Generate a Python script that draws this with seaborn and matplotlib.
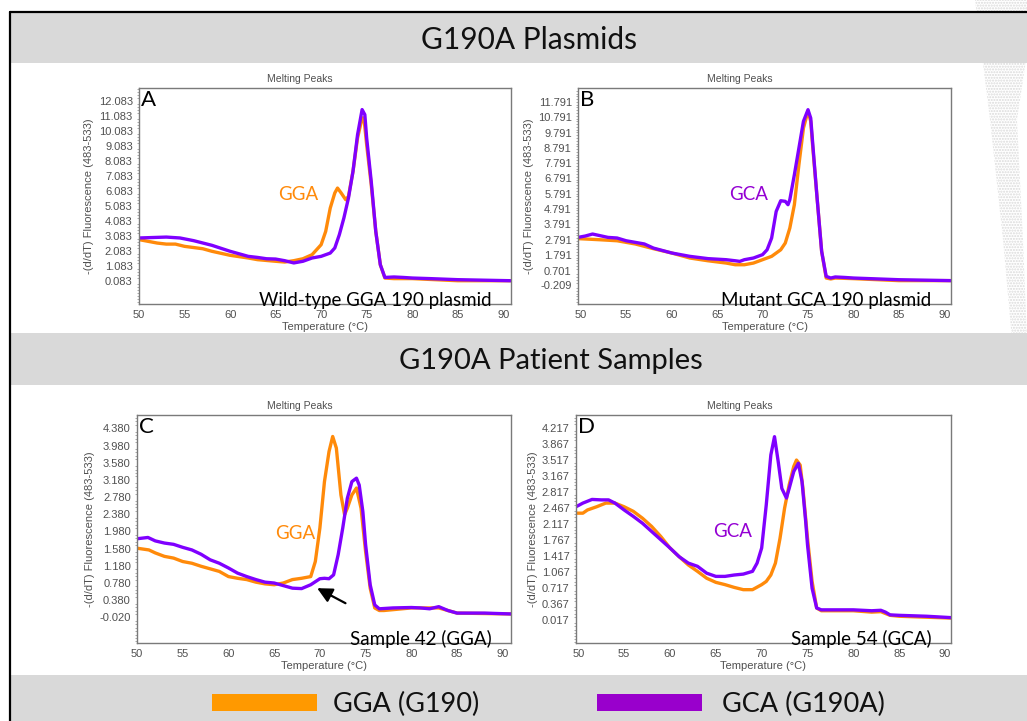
import matplotlib
matplotlib.use("Agg")
import matplotlib.pyplot as plt
import seaborn as sns
from matplotlib.patches import Rectangle, Polygon
from matplotlib.ticker import AutoMinorLocator, FormatStrFormatter

# ---------------------------------------------------------------- data
# Melting-peak curves, -(d/dT) fluorescence (483-533) versus temperature (°C)

# A: wild-type GGA 190 plasmid
a_gga_temp = [50, 52, 53, 54, 55, 57, 58, 60, 62, 63, 65, 66, 67, 68, 69, 70, 70.5, 71, 71.5,
              71.8, 72.2, 72.7, 73, 73.5, 74, 74.5, 74.7, 75, 75.5, 76, 76.5, 77, 78, 80, 85, 90.8]
a_gga_val = [2.83, 2.60, 2.53, 2.53, 2.38, 2.22, 2.05, 1.78, 1.60, 1.49, 1.38, 1.33, 1.42, 1.55,
             1.82, 2.49, 3.38, 4.94, 5.95, 6.28, 5.95, 5.50, 5.72, 7.40, 9.63, 10.97, 10.97, 9.18,
             6.51, 3.38, 1.15, 0.26, 0.22, 0.22, 0.08, 0.08]
a_gca_temp = [50, 52, 53, 54.5, 56, 58, 60, 62, 63, 64, 65, 66, 67, 68, 69, 70, 71, 71.5, 72, 72.5,
              73, 73.5, 74, 74.5, 74.8, 75, 75.5, 76, 76.5, 77, 78, 79, 80, 82, 85, 90.8]
a_gca_val = [2.94, 2.98, 3.00, 2.94, 2.76, 2.45, 2.05, 1.71, 1.64, 1.55, 1.53, 1.42, 1.27, 1.38,
             1.60, 1.71, 1.93, 2.27, 3.16, 4.28, 5.61, 7.40, 9.85, 11.53, 11.19, 9.63, 6.73, 3.38,
             1.15, 0.30, 0.33, 0.30, 0.26, 0.22, 0.15, 0.08]

# B: mutant GCA 190 plasmid
b_gga_temp = [49.7, 52, 54, 56, 58, 60, 62, 64, 66, 67, 68, 69, 70, 71, 72, 72.5, 73, 73.5, 74,
              74.5, 75, 75.3, 75.5, 76, 76.5, 77, 77.5, 78, 80, 85, 90.7]
b_gga_val = [2.85, 2.78, 2.71, 2.50, 2.19, 1.91, 1.58, 1.40, 1.25, 1.14, 1.14, 1.25, 1.47, 1.69,
             2.12, 2.56, 3.54, 5.07, 7.69, 10.09, 11.18, 10.53, 9.00, 5.51, 2.02, 0.27, 0.21, 0.27,
             0.23, 0.10, 0.10]
b_gca_temp = [49.7, 50.5, 51.3, 52, 53, 54, 55, 57, 58, 60, 62, 64, 66, 67, 67.5, 68, 69, 70, 70.5,
              71, 71.5, 72, 72.5, 72.8, 73, 73.5, 74, 74.5, 75, 75.3, 75.5, 76, 76.5, 77, 77.5, 78,
              79, 80, 85, 90.7]
b_gca_val = [2.93, 3.02, 3.15, 3.06, 2.93, 2.89, 2.71, 2.50, 2.23, 1.91, 1.69, 1.54, 1.47, 1.40,
             1.36, 1.47, 1.58, 1.80, 2.12, 2.89, 4.63, 5.33, 5.29, 5.07, 5.40, 7.03, 8.78, 10.53,
             11.29, 10.74, 9.22, 5.51, 2.02, 0.38, 0.27, 0.34, 0.31, 0.27, 0.16, 0.10]

# C: patient sample 42 (GGA)
c_gga_temp = [50, 51.3, 52, 53, 54, 55, 56, 57, 58, 59, 60, 61, 62, 63, 64, 65, 66, 67, 68, 69,
              69.5, 70, 70.5, 71, 71.4, 71.8, 72.3, 72.7, 73, 73.5, 74, 74.5, 75, 75.5, 76, 76.5,
              77, 80, 83, 85, 90.9]
c_gga_val = [1.59, 1.55, 1.48, 1.40, 1.36, 1.28, 1.24, 1.17, 1.11, 1.05, 0.93, 0.89, 0.86, 0.80,
             0.76, 0.74, 0.78, 0.86, 0.89, 0.93, 1.28, 2.06, 3.14, 3.84, 4.19, 3.92, 2.83, 2.37,
             2.52, 2.83, 2.99, 2.52, 1.51, 0.66, 0.20, 0.14, 0.14, 0.20, 0.20, 0.08, 0.06]
c_gca_temp = [50, 51.2, 52, 53, 54, 55, 56, 57, 58, 59, 60, 61, 62, 63, 64, 65, 66, 67, 68, 69,
              70, 70.5, 71, 71.5, 72, 72.5, 73, 73.5, 74, 74.3, 74.7, 75, 75.5, 76, 76.5, 78, 80,
              81, 82, 83, 84, 85, 88, 90.9]
c_gca_val = [1.81, 1.84, 1.76, 1.71, 1.68, 1.61, 1.55, 1.45, 1.32, 1.24, 1.13, 1.01, 0.93, 0.86,
             0.80, 0.78, 0.72, 0.66, 0.65, 0.74, 0.88, 0.89, 0.88, 0.97, 1.44, 2.06, 2.75, 3.14,
             3.22, 3.06, 2.44, 1.67, 0.74, 0.27, 0.18, 0.20, 0.21, 0.20, 0.18, 0.23, 0.14, 0.08,
             0.08, 0.06]

# D: patient sample 54 (GCA)
d_gga_temp = [49.75, 50.5, 51, 52, 53, 54, 55, 56, 57, 58, 59, 60, 61, 62, 63, 64, 65, 66, 67, 68,
              69, 70, 70.5, 71, 71.5, 72, 72.5, 73, 73.5, 73.8, 74.2, 74.5, 75, 75.5, 76, 76.5, 80,
              82, 83, 84, 85, 90.65]
d_gga_val = [2.35, 2.35, 2.42, 2.49, 2.57, 2.57, 2.49, 2.39, 2.24, 2.06, 1.84, 1.59, 1.40, 1.22,
             1.08, 0.93, 0.84, 0.79, 0.73, 0.68, 0.68, 0.79, 0.86, 1.00, 1.26, 1.80, 2.46, 2.97,
             3.37, 3.51, 3.40, 2.89, 1.80, 0.86, 0.28, 0.22, 0.22, 0.19, 0.20, 0.12, 0.10, 0.06]
d_gca_temp = [49.75, 50.5, 51.5, 52.5, 53.3, 54, 55, 56, 57, 58, 59, 60, 61, 62, 63, 64, 65, 66,
              67, 68, 69, 69.5, 70, 70.5, 71, 71.4, 71.8, 72.2, 72.7, 73, 73.5, 74, 74.4, 74.8, 75,
              75.5, 76, 76.5, 80, 82, 83, 83.5, 84, 85, 88, 90.65]
d_gca_val = [2.49, 2.57, 2.65, 2.64, 2.64, 2.57, 2.42, 2.28, 2.13, 1.95, 1.77, 1.59, 1.40, 1.26,
             1.19, 1.04, 0.97, 0.97, 1.00, 1.02, 1.08, 1.26, 1.59, 2.53, 3.62, 4.02, 3.48, 2.89,
             2.68, 2.89, 3.26, 3.44, 3.04, 2.17, 1.66, 0.71, 0.28, 0.24, 0.24, 0.22, 0.23, 0.19,
             0.13, 0.12, 0.10, 0.07]

# axis ticks
temp_ticks = [50, 55, 60, 65, 70, 75, 80, 85, 90]
a_yticks = [0.083, 1.083, 2.083, 3.083, 4.083, 5.083, 6.083, 7.083, 8.083, 9.083, 10.083,
            11.083, 12.083]
b_yticks = [-0.209, 0.701, 1.791, 2.791, 3.791, 4.791, 5.791, 6.791, 7.791, 8.791, 9.791,
            10.791, 11.791]
c_yticks = [-0.020, 0.380, 0.780, 1.180, 1.580, 1.980, 2.380, 2.780, 3.180, 3.580, 3.980, 4.380]
d_yticks = [0.017, 0.367, 0.717, 1.067, 1.417, 1.767, 2.117, 2.467, 2.817, 3.167, 3.517, 3.867,
            4.217]

# text
section_titles = ["G190A Plasmids", "G190A Patient Samples"]
series_names = ["GGA (G190)", "GCA (G190A)"]
panel_letters = ["A", "B", "C", "D"]
panel_captions = ["Wild-type GGA 190 plasmid", "Mutant GCA 190 plasmid",
                  "Sample 42 (GGA)", "Sample 54 (GCA)"]
panel_tags = ["GGA", "GCA", "GGA", "GCA"]

# ---------------------------------------------------------------- style
sns.set_style("white")
plt.rcParams["font.family"] = ["Liberation Sans", "DejaVu Sans"]

ORANGE = "#FF8A0A"
PURPLE = "#7F00FF"
LEG_ORANGE = "#FF9900"
LEG_PURPLE = "#9900CC"
TAG_PURPLE = "#9400D3"
BAR_GREY = "#D9D9D9"
AX_GREY = "#7A7A7A"
TXT_GREY = "#505050"
BIG = ["Lato", "DejaVu Sans"]

W, H = 1027, 721
fig = plt.figure(figsize=(W / 100, H / 100), dpi=100)
fig.patch.set_facecolor("white")


def fx(px):
    return px / W


def fy(py):
    return 1 - py / H


def frect(x0, y0, x1, y1, **kw):
    return Rectangle((fx(x0), fy(y1)), (x1 - x0) / W, (y1 - y0) / H,
                     transform=fig.transFigure, **kw)


# dotted swoosh at the right border
swoosh_pts = [(975, 0), (990, 120), (1003, 240), (1012, 340), (1027, 340),
              (1023, 240), (1017, 120), (1035, 0)]
fig.patches.append(Polygon([(fx(x), fy(y)) for x, y in swoosh_pts], closed=True,
                           transform=fig.transFigure, facecolor="white",
                           edgecolor="#DADADA", hatch="......", linewidth=0, zorder=0))

# grey section bars and outer frame
for y0, y1 in [(13, 63), (333, 385), (675, 721)]:
    fig.patches.append(frect(10, y0, 1027, y1, facecolor=BAR_GREY, edgecolor="none", zorder=1))
fig.add_artist(plt.Line2D([fx(10), fx(10)], [fy(12), fy(721)], transform=fig.transFigure,
                          color="black", lw=1.6, zorder=3))
fig.add_artist(plt.Line2D([fx(10), fx(1027)], [fy(12), fy(12)], transform=fig.transFigure,
                          color="black", lw=1.6, zorder=3))

fig.text(fx(529), fy(40), section_titles[0], ha="center", va="center",
         fontsize=21.5, family=BIG, color="#111111")
fig.text(fx(551), fy(361), section_titles[1], ha="center", va="center",
         fontsize=21, family=BIG, color="#111111")

# legend along the bottom bar
fig.patches.append(frect(212, 694, 317, 711, facecolor=LEG_ORANGE, edgecolor="none", zorder=2))
fig.patches.append(frect(597, 694, 702, 711, facecolor=LEG_PURPLE, edgecolor="none", zorder=2))
fig.text(fx(333), fy(704), series_names[0], ha="left", va="center", fontsize=19.5,
         family=BIG, color="#111111")
fig.text(fx(722), fy(704), series_names[1], ha="left", va="center", fontsize=19.5,
         family=BIG, color="#111111")

# ---------------------------------------------------------------- panels
panels = [
    dict(box=(139, 88, 511, 304), title_x=300, xlim=(50, 90.85), ylim=(-1.478, 12.975),
         yt=a_yticks, gga=(a_gga_temp, a_gga_val), gca=(a_gca_temp, a_gca_val),
         tag_pos=(0.427, 0.505), tag_col=ORANGE),
    dict(box=(578, 88, 951, 304), title_x=740, xlim=(49.7, 90.73), ylim=(-1.43, 12.71),
         yt=b_yticks, gga=(b_gga_temp, b_gga_val), gca=(b_gca_temp, b_gca_val),
         tag_pos=(0.458, 0.509), tag_col=TAG_PURPLE),
    dict(box=(137, 415, 511, 643), title_x=300, xlim=(50, 90.9), ylim=(-0.616, 4.69),
         yt=c_yticks, gga=(c_gga_temp, c_gga_val), gca=(c_gca_temp, c_gca_val),
         tag_pos=(0.422, 0.482), tag_col=ORANGE),
    dict(box=(576, 415, 951, 643), title_x=740, xlim=(49.75, 90.65), ylim=(-0.484, 4.493),
         yt=d_yticks, gga=(d_gga_temp, d_gga_val), gca=(d_gca_temp, d_gca_val),
         tag_pos=(0.419, 0.491), tag_col=TAG_PURPLE),
]

axes = []
for i, p in enumerate(panels):
    x0, y0, x1, y1 = p["box"]
    ax = fig.add_axes([fx(x0), fy(y1), (x1 - x0) / W, (y1 - y0) / H])
    ax.set_facecolor("white")
    sns.lineplot(x=p["gga"][0], y=p["gga"][1], ax=ax, color=ORANGE, linewidth=2.4)
    sns.lineplot(x=p["gca"][0], y=p["gca"][1], ax=ax, color=PURPLE, linewidth=2.4)
    ax.set_xlim(*p["xlim"])
    ax.set_ylim(*p["ylim"])
    ax.set_xticks(temp_ticks)
    ax.set_yticks(p["yt"])
    ax.yaxis.set_major_formatter(FormatStrFormatter("%.3f"))
    ax.yaxis.set_minor_locator(AutoMinorLocator(5))
    ax.tick_params(axis="both", which="major", direction="out", length=3, width=0.8,
                   color=AX_GREY, labelsize=8, labelcolor=TXT_GREY, pad=1.5)
    ax.tick_params(axis="y", which="minor", direction="out", length=1.6, width=0.6,
                   color="#9A9A9A", left=True)
    for s in ax.spines.values():
        s.set_color(AX_GREY)
        s.set_linewidth(1.0)
    ax.set_xlabel("Temperature (°C)", fontsize=8, color=TXT_GREY, labelpad=1)
    ax.set_ylabel("-(d/dT) Fluorescence (483-533)", fontsize=8, color=TXT_GREY, labelpad=3)
    fig.text(fx(p["title_x"]), fy(y0 - 9), "Melting Peaks", ha="center", va="center",
             fontsize=7.5, color=TXT_GREY)

    ax.text(0.006, 0.99, panel_letters[i], transform=ax.transAxes, ha="left", va="top",
            fontsize=16, family=BIG, color="black")
    ax.text(p["tag_pos"][0], p["tag_pos"][1], panel_tags[i], transform=ax.transAxes,
            ha="center", va="center", fontsize=13.5, family=BIG, color=p["tag_col"])
    ax.text(0.948, -0.01, panel_captions[i], transform=ax.transAxes, ha="right",
            va="baseline", fontsize=13.5, family=BIG, color="black", clip_on=False, zorder=5)
    axes.append(ax)

# arrow marking the small GCA shoulder in sample 42
axes[2].annotate("", xy=(69.7, 0.66), xytext=(72.8, 0.31),
                 arrowprops=dict(arrowstyle="-|>,head_length=0.9,head_width=0.45",
                                 color="black", lw=1.6, shrinkA=0, shrinkB=0))

fig.savefig("out.png", dpi=100)
